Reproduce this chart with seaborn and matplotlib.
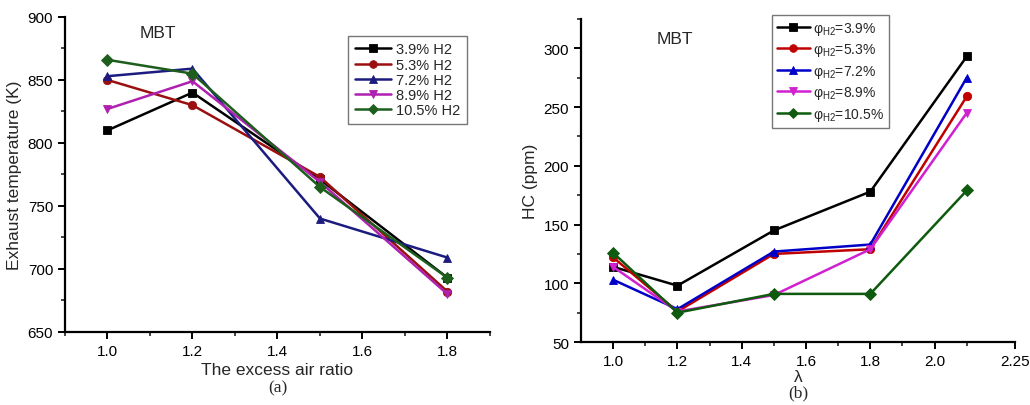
import matplotlib
matplotlib.use("Agg")
import matplotlib.pyplot as plt
import numpy as np
import pandas as pd
import seaborn as sns
from matplotlib.ticker import MultipleLocator, FixedLocator

# Exhaust temperature vs excess air ratio
lam_a = [1.0, 1.2, 1.5, 1.8]
temp_39 = [810, 840, 771, 693]
temp_53 = [850, 830, 773, 682]
temp_72 = [853, 859, 740, 709]
temp_89 = [827, 849, 769, 680]
temp_105 = [866, 855, 765, 693]
labels_a = ["3.9% H2", "5.3% H2", "7.2% H2", "8.9% H2", "10.5% H2"]

# HC emissions vs lambda
lam_b = [1.0, 1.2, 1.5, 1.8, 2.1]
hc_39 = [114, 98, 145, 178, 293]
hc_53 = [122, 76, 125, 129, 259]
hc_72 = [103, 78, 127, 133, 275]
hc_89 = [114, 76, 90, 129, 245]
hc_105 = [126, 75, 91, 91, 179]
labels_b = [r"$\mathregular{φ_{H2}}$=3.9%", r"$\mathregular{φ_{H2}}$=5.3%",
            r"$\mathregular{φ_{H2}}$=7.2%", r"$\mathregular{φ_{H2}}$=8.9%",
            r"$\mathregular{φ_{H2}}$=10.5%"]

colors_a = ["#000000", "#9a1010", "#1c1c80", "#b020b0", "#1d5e1d"]
colors_b = ["#000000", "#c00000", "#0000c8", "#d020d0", "#0e5a0e"]
marker_list = ["s", "o", "^", "v", "D"]


def long_table(x, series, names):
    rows = []
    for name, vals in zip(names, series):
        for xi, yi in zip(x, vals):
            rows.append({"x": xi, "y": yi, "series": name})
    return pd.DataFrame(rows)


df_a = long_table(lam_a, [temp_39, temp_53, temp_72, temp_89, temp_105], labels_a)
df_b = long_table(lam_b, [hc_39, hc_53, hc_72, hc_89, hc_105], labels_b)

sns.set_theme(style="ticks")
plt.rcParams["font.family"] = ["Liberation Sans", "DejaVu Sans"]
plt.rcParams["mathtext.fontset"] = "custom"
plt.rcParams["mathtext.rm"] = "Liberation Sans"

fig = plt.figure(figsize=(10.3, 4.06), dpi=100)
ax1 = fig.add_axes([0.0631, 0.180, 0.4126, 0.7757])
ax2 = fig.add_axes([0.5641, 0.155, 0.4213, 0.7960])


def draw(ax, df, names, colors):
    sns.lineplot(data=df, x="x", y="y", hue="series", style="series",
                 hue_order=names, style_order=names,
                 palette=dict(zip(names, colors)),
                 markers=dict(zip(names, marker_list)), dashes=False,
                 markersize=6, linewidth=1.8, markeredgewidth=0.6,
                 ax=ax, legend=True)
    # solid markers in the line colour
    for line in ax.lines:
        line.set_markeredgecolor(line.get_color())
    for s in ["top", "right"]:
        ax.spines[s].set_visible(False)
    for s in ["left", "bottom"]:
        ax.spines[s].set_linewidth(1.6)
        ax.spines[s].set_color("black")
    ax.tick_params(which="major", direction="out", length=5, width=1.4,
                   labelsize=11, colors="black")
    ax.tick_params(which="minor", direction="out", length=3, width=1.2)


def finish_legend(leg):
    leg.get_frame().set_linewidth(1.0)
    for h in leg.legend_handles:
        h.set_markeredgecolor(h.get_color())
        h.set_markersize(5.5)
        h.set_linewidth(1.8)


draw(ax1, df_a, labels_a, colors_a)
ax1.set_xlim(0.9, 1.9)
ax1.set_ylim(650, 900)
ax1.xaxis.set_minor_locator(MultipleLocator(0.1))
ax1.yaxis.set_major_locator(MultipleLocator(50))
ax1.yaxis.set_minor_locator(MultipleLocator(25))
ax1.set_xticks([1.0, 1.2, 1.4, 1.6, 1.8])
ax1.set_xticklabels(["1.0", "1.2", "1.4", "1.6", "1.8"])
ax1.set_xlabel("The excess air ratio", fontsize=12.5, labelpad=3)
ax1.set_ylabel("Exhaust temperature (K)", fontsize=12.5, labelpad=4)
ax1.text(0.176, 0.952, "MBT", transform=ax1.transAxes, fontsize=12.5, ha="left", va="center")
ax1.text(0.5, -0.175, "(a)", transform=ax1.transAxes, fontsize=12.5, ha="center",
         va="center", family="Liberation Serif")
leg1 = ax1.legend(loc="upper right", bbox_to_anchor=(0.945, 0.94), frameon=True,
                  fancybox=False, edgecolor="#555555", fontsize=10.5,
                  handlelength=2.5, handletextpad=0.3, labelspacing=0.08,
                  borderpad=0.45, borderaxespad=0)
finish_legend(leg1)

draw(ax2, df_b, labels_b, colors_b)
ax2.set_xlim(0.9, 2.25)
ax2.set_ylim(50, 325)
ax2.xaxis.set_major_locator(FixedLocator([1.0, 1.2, 1.4, 1.6, 1.8, 2.0, 2.25]))
ax2.xaxis.set_minor_locator(FixedLocator([1.1, 1.3, 1.5, 1.7, 1.9, 2.1]))
ax2.set_xticklabels(["1.0", "1.2", "1.4", "1.6", "1.8", "2.0", "2.25"])
ax2.yaxis.set_major_locator(MultipleLocator(50))
ax2.yaxis.set_minor_locator(MultipleLocator(25))
ax2.set_xlabel("λ", fontsize=12.5, labelpad=1)
ax2.set_ylabel("HC (ppm)", fontsize=12.5, labelpad=4)
ax2.text(0.175, 0.938, "MBT", transform=ax2.transAxes, fontsize=12.5, ha="left", va="center")
ax2.text(0.5, -0.155, "(b)", transform=ax2.transAxes, fontsize=12.5, ha="center",
         va="center", family="Liberation Serif")
leg2 = ax2.legend(loc="upper left", bbox_to_anchor=(0.44, 1.012), frameon=True,
                  fancybox=False, edgecolor="#555555", fontsize=10,
                  handlelength=2.4, handletextpad=0.2, labelspacing=0.32,
                  borderpad=0.35, borderaxespad=0)
finish_legend(leg2)

fig.savefig("out.png", dpi=100)
